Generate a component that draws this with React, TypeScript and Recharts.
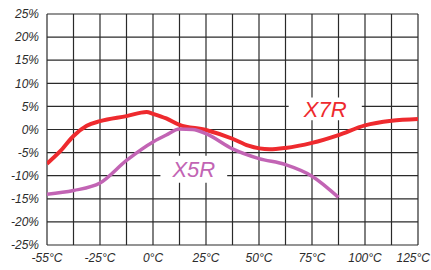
import React from 'react';
import {
  LineChart,
  Line,
  XAxis,
  YAxis,
  CartesianGrid,
  ReferenceArea,
} from 'recharts';

// Temperature axis: grid every 12.5, first tick is printed as -55°C on the original
const xTicks = [-50, -37.5, -25, -12.5, 0, 12.5, 25, 37.5, 50, 62.5, 75, 87.5, 100, 112.5, 125];
const xTickLabels: Record<string, string> = {
  '-50': '-55°C',
  '-25': '-25°C',
  '0': '0°C',
  '25': '25°C',
  '50': '50°C',
  '75': '75°C',
  '100': '100°C',
  '125': '125°C',
};
const yTicks = [-25, -20, -15, -10, -5, 0, 5, 10, 15, 20, 25];

// X7R capacitance change (%)
const x7rTemps = [-50, -43.75, -37.5, -31.25, -25, -12.5, -3, 0, 6.25, 12.5, 25, 37.5, 45, 55, 62.5, 75, 87.5, 100, 112.5, 125];
const x7rValues = [-7.4, -4.7, -1.4, 0.8, 1.8, 2.9, 3.8, 3.4, 2.4, 1.0, -0.1, -2.0, -3.5, -4.3, -4.0, -2.9, -1.2, 0.9, 1.9, 2.3];

// X5R capacitance change (%)
const x5rTemps = [-50, -37.5, -25, -12.5, 0, 6.25, 12.5, 18.75, 25, 37.5, 50, 62.5, 75, 87.5];
const x5rValues = [-14.0, -13.2, -11.6, -6.7, -2.7, -1.2, 0.1, 0.0, -0.9, -4.2, -6.3, -7.6, -10.1, -14.7];

const x7rData = x7rTemps.map((t, i) => ({ t, v: x7rValues[i] }));
const x5rData = x5rTemps.map((t, i) => ({ t, v: x5rValues[i] }));

const RED = '#ee2a2e';
const PURPLE = '#c264b4';
const FONT = '"Liberation Sans", Arial, sans-serif';
const tickStyle = { fill: '#2b2b2b', fontSize: 12, fontStyle: 'italic', fontFamily: FONT };

// x tick that keeps the last label inside the picture
const XTick = (props: any) => {
  const { x, y, payload } = props;
  const label = xTickLabels[String(payload.value)] ?? '';
  if (!label) return null;
  const atEnd = x > 410;
  return (
    <text
      x={atEnd ? 430 : x}
      y={y}
      dy="0.71em"
      textAnchor={atEnd ? 'end' : 'middle'}
      {...tickStyle}
    >
      {label}
    </text>
  );
};

export default function App() {
  return (
    <div style={{ position: 'absolute', left: 0, top: 0, background: '#fff' }}>
      <LineChart width={431} height={270} margin={{ top: 14, right: 13, bottom: 0, left: 7 }}>
        <CartesianGrid stroke="#2a2a2a" strokeWidth={1.2} />
        <XAxis
          type="number"
          dataKey="t"
          domain={[-50, 125]}
          ticks={xTicks}
          interval={0}
          tick={<XTick />}
          tickSize={0}
          tickMargin={8}
          axisLine={false}
          height={25}
          allowDataOverflow
        />
        <YAxis
          type="number"
          domain={[-25, 25]}
          ticks={yTicks}
          interval={0}
          tickFormatter={(v: number) => `${v}%`}
          tick={tickStyle}
          tickSize={0}
          tickMargin={8}
          axisLine={false}
          width={40}
        />
        <ReferenceArea
          x1={64}
          x2={98.5}
          y1={2}
          y2={6.9}
          fill="#fff"
          fillOpacity={1}
          stroke="none"
          label={{ value: 'X7R', position: 'center', fill: RED, fontSize: 22, fontStyle: 'italic', fontFamily: FONT }}
        />
        <ReferenceArea
          x1={3.5}
          x2={35}
          y1={-11.5}
          y2={-5.7}
          fill="#fff"
          fillOpacity={1}
          stroke="none"
          label={{ value: 'X5R', position: 'center', fill: PURPLE, fontSize: 22, fontStyle: 'italic', fontFamily: FONT }}
        />
        <Line
          data={x7rData}
          dataKey="v"
          type="monotone"
          stroke={RED}
          strokeWidth={4}
          dot={false}
          isAnimationActive={false}
        />
        <Line
          data={x5rData}
          dataKey="v"
          type="monotone"
          stroke={PURPLE}
          strokeWidth={3.5}
          dot={false}
          isAnimationActive={false}
        />
      </LineChart>
    </div>
  );
}
